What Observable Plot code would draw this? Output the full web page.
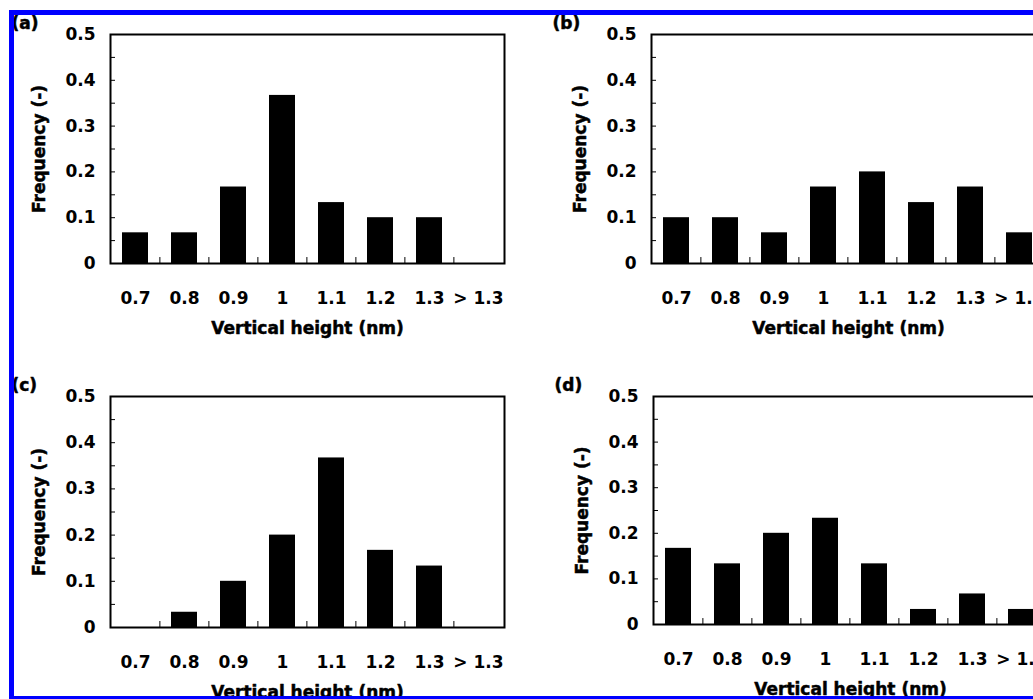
<!DOCTYPE html>
<html><head><meta charset="utf-8">
<script src="https://cdn.jsdelivr.net/npm/d3@7"></script>
<script src="https://cdn.jsdelivr.net/npm/@observablehq/plot@0.6"></script>
<style>
html,body{margin:0;padding:0;background:#fff;width:1033px;height:699px;overflow:hidden;}
#root{position:relative;width:1033px;height:699px;overflow:hidden;background:#fff;}
.panel{position:absolute;width:520px;}
.panel svg{max-width:none !important;}
#border{position:absolute;left:9px;top:10px;width:1100px;height:691px;box-sizing:border-box;border:5px solid #0000ff;border-right:none;z-index:10;pointer-events:none;}
</style></head><body><div id="root"><div id="border"></div></div>
<script>
const categories = ["0.7", "0.8", "0.9", "1", "1.1", "1.2", "1.3", "> 1.3"];
const freqA = [0.067, 0.067, 0.167, 0.367, 0.133, 0.1, 0.1, 0];
const freqB = [0.1, 0.1, 0.067, 0.167, 0.2, 0.133, 0.167, 0.067];
const freqC = [0, 0.033, 0.1, 0.2, 0.367, 0.167, 0.133, 0];
const freqD = [0.167, 0.133, 0.2, 0.233, 0.133, 0.033, 0.067, 0.033];
const yTickLabels = [0, 0.1, 0.2, 0.3, 0.4, 0.5];
const yTickMarks = [0.05, 0.1, 0.15, 0.2, 0.25, 0.3, 0.35, 0.4, 0.45];
const panelTags = ["(a)", "(b)", "(c)", "(d)"];
const xLabel = "Vertical height (nm)";
const yLabel = "Frequency (-)";

const FONT = "'DejaVu Sans', 'Liberation Sans', sans-serif";

function panel(values, tag, frameH) {
  const W = 520, mL = 110, mR = 16, mT = 34, mB = 77;
  const step = (W - mL - mR) / categories.length;
  const data = categories.map((c, i) => ({c, v: values[i]}));
  const txt = {fontSize: 17, fontWeight: "bold", fontFamily: FONT, fill: "black", stroke: "black", strokeWidth: 0.5};
  return Plot.plot({
    width: W, height: mT + frameH + mB,
    marginLeft: mL, marginRight: mR, marginTop: mT, marginBottom: mB,
    style: {fontFamily: FONT, fontWeight: "bold", fontSize: "17px", color: "black", background: "transparent", overflow: "visible", maxWidth: "none"},
    x: {domain: categories, paddingInner: 0.46, paddingOuter: 0.23},
    y: {domain: [0, 0.5]},
    marks: [
      Plot.barY(data, {x: "c", y: "v", fill: "black"}),
      Plot.axisY(yTickMarks, {anchor: "left", tickSize: -5, text: null, label: null, strokeWidth: 1}),
      Plot.axisY(yTickLabels, {anchor: "left", tickSize: 0, tickPadding: 15, label: null, tickFormat: d => d === 0 ? "0" : String(d), ...txt}),
      Plot.axisX({anchor: "bottom", tickSize: 0, tickPadding: 28, label: null, ...txt}),
      Plot.ruleX(categories.slice(1), {x: d => d, y1: 0, y2: 0.013, dx: -step / 2, stroke: "black", strokeWidth: 1}),
      Plot.frame({stroke: "black", strokeWidth: 2}),
      Plot.text([xLabel], {frameAnchor: "bottom", lineAnchor: "middle", textAnchor: "middle", dy: 65, ...txt}),
      Plot.text([yLabel], {frameAnchor: "left", lineAnchor: "middle", textAnchor: "middle", dx: -71, rotate: -90, ...txt}),
      Plot.text([tag], {frameAnchor: "top-left", lineAnchor: "middle", textAnchor: "start", dx: -99, dy: -11, ...txt})
    ]
  });
}

const root = document.getElementById("root");
const layout = [
  {values: freqA, tag: panelTags[0], h: 229, left: 0, top: 0},
  {values: freqB, tag: panelTags[1], h: 229, left: 541, top: 0},
  {values: freqC, tag: panelTags[2], h: 231, left: 0, top: 362},
  {values: freqD, tag: panelTags[3], h: 228, left: 543, top: 362}
];
for (const p of layout) {
  const div = document.createElement("div");
  div.className = "panel";
  div.style.left = p.left + "px";
  div.style.top = p.top + "px";
  div.appendChild(panel(p.values, p.tag, p.h));
  root.insertBefore(div, document.getElementById("border"));
}
</script>
</body></html>
